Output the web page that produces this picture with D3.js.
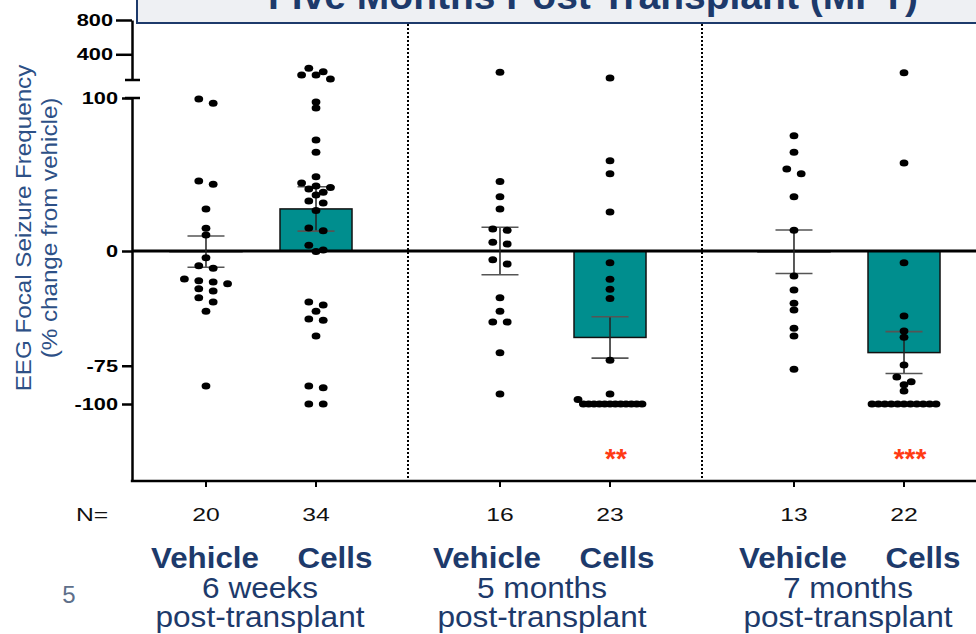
<!DOCTYPE html>
<html>
<head>
<meta charset="utf-8">
<script src="https://cdn.jsdelivr.net/npm/d3@7"></script>
<style>
  html, body { margin: 0; padding: 0; background: #fff; }
  svg { display: block; font-family: "Liberation Sans", Arial, sans-serif; }
</style>
</head>
<body>
<svg id="chart" width="976" height="634"></svg>
<script>
// ---- data -------------------------------------------------------------
const timepoints = ["6 weeks", "5 months", "7 months"];
const treatments = ["Vehicle", "Cells"];
const nCounts = [[20, 34], [16, 23], [13, 22]];
// group means and SEM (% change from vehicle)
const barMeans = [[-0.4, 27.5], [0, -56.5], [-0.5, -66.4]];
const barSems = [[10.2, 14.5], [15.5, 13.5], [14.2, 13.7]];
const significance = ["", "**", "***"];
const lowerTicks = [100, 0, -75, -100];
const upperTicks = [800, 400];

// individual animals
const veh6wk = [99.3, 96.5, 45.8, 43.6, 27.5, 14.8, 10.5, -4.4, -9.6, -11.3,
  -18.3, -19.4, -20.3, -21.4, -24.6, -26.1, -30.5, -33.3, -39.4, -88.2];
const cells6wk = [237, 197, 158, 158, 112, 97.4, 93.5, 72.5, 64.5, 48.6,
  44.4, 42.5, 41.5, 40.5, 38.4, 36.6, 32.7, 31.4, 26.4, 15.0,
  13.3, 3.7, 0.7, -0.4, -33.3, -35.3, -39.4, -44.4, -45.3, -55.6,
  -88.2, -89.3, -100, -100];
const veh5mo = [190, 45.5, 35.5, 27.5, 14.4, 13.5, 5.7, 4.6, -5.7, -8.5,
  -30.5, -39.4, -46.4, -46.4, -66.5, -93.5];
const cells5mo = [123, 59, 50.5, 25.5, -7.6, -18.5, -25, -31, -71.4, -93.5, -97,
  -100, -100, -100, -100, -100, -100, -100, -100, -100, -100, -100, -100];
const veh7mo = [75.4, 64.5, 53.6, 50.5, 35.5, 13.5, -16.3, -25.5, -34.2, -38.6,
  -50.5, -55.6, -77.3];
const cells7mo = [185, 57.5, -7.6, -42.5, -52.3, -56.4, -74.5, -82.4, -85.4, -87.4, -91.5,
  -100, -100, -100, -100, -100, -100, -100, -100, -100, -100, -100];
const pointSets = [[veh6wk, cells6wk], [veh5mo, cells5mo], [veh7mo, cells7mo]];

// ---- scales -------------------------------------------------------------
const svg = d3.select("#chart");
const gx = d3.scaleBand().domain(timepoints).range([114, 996]);
const tx = d3.scalePoint().domain(treatments).range([0, gx.bandwidth()]).padding(0.836);
const yLow = d3.scaleLinear().domain([-150, 100]).range([480.5, 98]);   // main segment
const yHigh = d3.scaleLinear().domain([100, 800]).range([80, 20]);      // segment above the break
const yPos = v => (v > 100 ? yHigh(v) : yLow(v));
const cx = (t, k) => gx(t) + tx(k);
const gCenter = t => gx(t) + gx.bandwidth() / 2;

const navy = "#1d3a6b";
const teal = "#008e8e";
const axisX = 132;
const rightEdge = 976;

const groups = [];
timepoints.forEach((t, i) => treatments.forEach((k, j) => {
  groups.push({ t, k, i, j, mean: barMeans[i][j], sem: barSems[i][j], n: nCounts[i][j], pts: pointSets[i][j] });
}));

// ---- title banner ---------------------------------------------------------
svg.append("rect").attr("x", 137).attr("y", -10).attr("width", 860).attr("height", 33)
  .attr("fill", "#eef0f3").attr("stroke", navy).attr("stroke-width", 2);
svg.append("text").attr("x", 593).attr("y", 9).attr("text-anchor", "middle")
  .attr("font-size", 39).attr("font-weight", "bold").attr("fill", navy)
  .text("Five Months Post Transplant (MPT)");

// ---- dotted separators between time points --------------------------------
timepoints.slice(1).forEach(t => {
  svg.append("line").attr("x1", gx(t)).attr("x2", gx(t)).attr("y1", 24).attr("y2", 480)
    .attr("stroke", "#000").attr("stroke-width", 2).attr("stroke-dasharray", "2,2");
});

// ---- bars ---------------------------------------------------------------
svg.append("g").selectAll("rect").data(groups).join("rect")
  .attr("x", d => cx(d.t, d.k) - 36)
  .attr("width", 72)
  .attr("y", d => Math.min(yLow(0), yLow(d.mean)))
  .attr("height", d => Math.abs(yLow(d.mean) - yLow(0)))
  .attr("fill", d => (d.k === "Cells" ? teal : "none"))
  .attr("stroke", "#111").attr("stroke-width", 1.5);

// ---- zero line -------------------------------------------------------------
svg.append("line").attr("x1", axisX).attr("x2", rightEdge).attr("y1", yLow(0)).attr("y2", yLow(0))
  .attr("stroke", "#000").attr("stroke-width", 3);

// ---- axes ---------------------------------------------------------------
function styleTickLabels(g, offset) {
  g.selectAll(".tick text")
    .attr("x", 0)
    .attr("transform", `translate(${-offset},0) scale(1.28,1)`)
    .attr("font-size", 17).attr("font-weight", "bold").attr("fill", "#000")
    .attr("font-family", "'Liberation Sans', Arial, sans-serif");
  g.selectAll("line, path").attr("stroke", "#000").attr("stroke-width", 2.5);
}
const lowAxis = svg.append("g").attr("transform", `translate(${axisX},0)`)
  .call(d3.axisLeft(yLow).tickValues(lowerTicks).tickSize(10).tickSizeOuter(0).tickFormat(d => String(d)));
styleTickLabels(lowAxis, 14);
const highAxis = svg.append("g").attr("transform", `translate(${axisX},0)`)
  .call(d3.axisLeft(yHigh).tickValues(upperTicks).tickSize(16).tickSizeOuter(0).tickFormat(d => String(d)));
styleTickLabels(highAxis, 19);
// break caps
[yHigh(100), yLow(100)].forEach(y => {
  svg.append("line").attr("x1", 125).attr("x2", 140).attr("y1", y).attr("y2", y)
    .attr("stroke", "#000").attr("stroke-width", 2.5);
});
// bottom axis
const xAxisY = 481;
svg.append("line").attr("x1", axisX - 1.2).attr("x2", rightEdge).attr("y1", xAxisY).attr("y2", xAxisY)
  .attr("stroke", "#000").attr("stroke-width", 2.5);
svg.append("g").selectAll("line").data(groups).join("line")
  .attr("x1", d => cx(d.t, d.k)).attr("x2", d => cx(d.t, d.k))
  .attr("y1", xAxisY).attr("y2", xAxisY + 6)
  .attr("stroke", "#000").attr("stroke-width", 2);

// ---- error bars (mean ± SEM) ----------------------------------------------
const eb = svg.append("g");
groups.forEach(d => {
  const x = cx(d.t, d.k);
  const y1 = yLow(d.mean + d.sem), y2 = yLow(d.mean - d.sem);
  eb.append("line").attr("x1", x).attr("x2", x).attr("y1", y1).attr("y2", y2)
    .attr("stroke", "#222").attr("stroke-width", 1.5);
  [y1, y2].forEach(y => eb.append("line").attr("x1", x - 18.5).attr("x2", x + 18.5)
    .attr("y1", y).attr("y2", y).attr("stroke", "#555").attr("stroke-width", 1.6));
});

// ---- individual points: rows of nearby values spread side by side ------------
function swarm(values, center) {
  const pts = values.map(v => ({ v, y: yPos(v) })).sort((a, b) => a.y - b.y);
  const rows = [];
  let cur = null;
  pts.forEach(p => {
    if (cur && p.y - cur[0].y < 4.85) cur.push(p);
    else { cur = [p]; rows.push(cur); }
  });
  rows.forEach(row => {
    const n = row.length;
    const step = n > 1 ? Math.min(14.4, 64 / (n - 1)) : 0;
    row.forEach((p, i) => { p.x = center + (i - (n - 1) / 2) * step; });
  });
  return pts;
}
const dots = svg.append("g");
groups.forEach(d => {
  dots.selectAll(null).data(swarm(d.pts, cx(d.t, d.k))).join("ellipse")
    .attr("cx", p => p.x).attr("cy", p => p.y)
    .attr("rx", 4.4).attr("ry", 3.5).attr("fill", "#000");
});

// ---- significance stars ---------------------------------------------------
timepoints.forEach((t, i) => {
  if (!significance[i]) return;
  svg.append("text").attr("x", cx(t, "Cells") + 6).attr("y", 468).attr("text-anchor", "middle")
    .attr("font-size", 28).attr("font-weight", "bold").attr("fill", "#ff3a14")
    .text(significance[i]);
});

// ---- N row ----------------------------------------------------------------
svg.append("text").attr("transform", "translate(92,521) scale(1.3,1)").attr("text-anchor", "middle")
  .attr("font-size", 19).attr("fill", "#111").text("N=");
svg.append("g").selectAll("text").data(groups).join("text")
  .attr("transform", d => `translate(${cx(d.t, d.k)},521) scale(1.3,1)`)
  .attr("text-anchor", "middle").attr("font-size", 19).attr("fill", "#111")
  .text(d => d.n);

// ---- group captions ---------------------------------------------------------
const captionShift = [0, -12, 0];
timepoints.forEach((t, i) => {
  const c = gCenter(t) + captionShift[i];
  svg.append("text").attr("transform", `translate(${c - 56},568) scale(1.08,1)`).attr("text-anchor", "middle")
    .attr("font-size", 29).attr("font-weight", "bold").attr("fill", navy).text(treatments[0]);
  svg.append("text").attr("transform", `translate(${c + 74},568) scale(1.08,1)`).attr("text-anchor", "middle")
    .attr("font-size", 29).attr("font-weight", "bold").attr("fill", navy).text(treatments[1]);
  svg.append("text").attr("transform", `translate(${c - 1},598) scale(1.09,1)`).attr("text-anchor", "middle")
    .attr("font-size", 29).attr("fill", navy).text(t);
  svg.append("text").attr("transform", `translate(${c - 1},627) scale(1.09,1)`).attr("text-anchor", "middle")
    .attr("font-size", 29).attr("fill", navy).text("post-transplant");
});

// ---- y axis title -------------------------------------------------------------
const yTitle = svg.append("g").attr("fill", "#2d5086").attr("font-size", 22).attr("text-anchor", "middle");
yTitle.append("text").attr("transform", "translate(31,228) rotate(-90) scale(1.1,1)")
  .text("EEG Focal Seizure Frequency");
yTitle.append("text").attr("transform", "translate(57,228) rotate(-90) scale(1.1,1)")
  .text("(% change from vehicle)");

// ---- slide number ---------------------------------------------------------
svg.append("text").attr("x", 69).attr("y", 603).attr("text-anchor", "middle")
  .attr("font-size", 24).attr("fill", "#5e6f8a").text("5");
</script>
</body>
</html>
